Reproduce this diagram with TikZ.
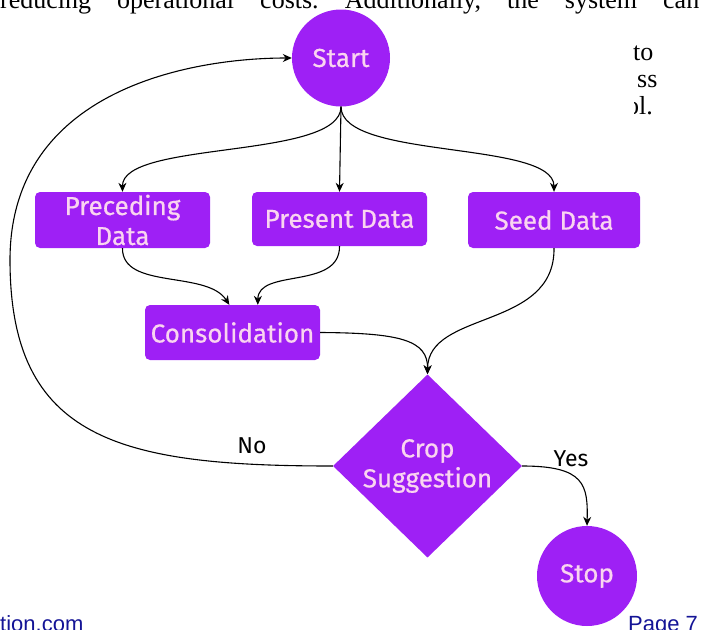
\documentclass[tikz,border=0pt]{standalone}
\usepackage{fontspec}
\setmainfont{Liberation Serif}
\newfontfamily\flowfont[FakeBold=0.6]{Fira Sans}
\newfontfamily\labelfont{Fira Sans}
\newfontfamily\webfont{Liberation Sans}
\usetikzlibrary{arrows.meta,shapes.geometric}
\definecolor{nodepurple}{RGB}{158,32,245}
\definecolor{nodetext}{RGB}{250,212,240}
\definecolor{linkblue}{RGB}{20,20,150}
\frenchspacing
\begin{document}
\begin{tikzpicture}[x=1pt,y=-1pt,
  flow/.style={fill=nodepurple, draw=none, text=nodetext, align=center, inner sep=0pt,
    font=\flowfont\fontsize{26}{30}\selectfont},
  box/.style={flow, rectangle, rounded corners=5pt},
  term/.style={flow, ellipse},
  decide/.style={flow, diamond},
  conn/.style={draw=black, line width=1.1pt, -{Stealth[length=9pt,width=8pt]}},
  lbl/.style={font=\labelfont\fontsize{23}{26}\selectfont, text=black, inner sep=0pt},
  pagetext/.style={inner sep=0pt, anchor=base west, font=\fontsize{26}{28}\selectfont},
  webtext/.style={inner sep=0pt, anchor=base west, text=linkblue, font=\webfont\fontsize{22}{24}\selectfont}
]
\useasboundingbox (0,0) rectangle (701,629);
\clip (0,0) rectangle (701,629);

% page fragments
\node[pagetext] (ptop) at (0,9) {\makebox[699pt][s]{reducing operational costs. Additionally, the system can}};
\node[pagetext] (pto) at (633,60) {to};
\node[pagetext] (pss) at (637,87) {ss};
\begin{scope}
  \clip (634,90) rectangle (701,130);
  \node[pagetext] (pol) at (626,114) {ol.};
\end{scope}
\node[webtext] (pweb) at (0,631) {tion.com};
\node[webtext] (ppage) at (628,631) {Page 7};

% nodes
\node[term, minimum width=98pt, minimum height=97pt] (start) at (341,58) {Start};
\node[box, minimum width=175pt, minimum height=56pt] (prec) at (122.5,220) {Preceding\\Data};
\node[box, minimum width=175pt, minimum height=54pt] (pres) at (339.5,219) {Present Data};
\node[box, minimum width=172pt, minimum height=56pt] (seed) at (554,220) {Seed Data};
\node[box, minimum width=175pt, minimum height=55pt] (cons) at (232.5,332.5) {Consolidation};
\node[decide, minimum width=189pt, minimum height=175pt] (crop) at (427.5,466) {Crop\\Suggestion};
\node[term, minimum width=100pt, minimum height=100pt] (stop) at (587,576) {Stop};

% connectors
\draw[conn] (start.south) .. controls (341,160) and (122,140) .. (prec.north);
\draw[conn] (start.south) -- (pres.north);
\draw[conn] (start.south) .. controls (341,160) and (554,140) .. (seed.north);
\draw[conn] (prec.south) .. controls (122,290) and (207,270) .. ([xshift=84.5pt]cons.north west);
\draw[conn] (pres.south) .. controls (340,290) and (258,268) .. ([xshift=113pt]cons.north west);
\draw[conn] (cons.east) .. controls (400,333) and (428,340) .. (crop.north);
\draw[conn] (seed.south) .. controls (555,330) and (428,310) .. (crop.north);
\coordinate (lp) at (10,260);
\draw[conn] (crop.west) .. controls (120,466) and (10,440) .. (lp) .. controls (10,90) and (190,58) .. (start.west);
\draw[conn] (crop.east) .. controls (585,466) and (588,485) .. (stop.north);

\node[lbl] (no) at (252,446) {No};
\node[lbl] (yes) at (571,459) {Yes};
\end{tikzpicture}
\end{document}
